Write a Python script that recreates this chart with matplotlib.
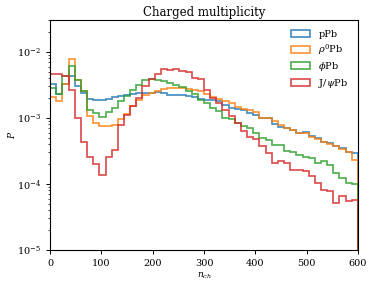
import numpy as np
import matplotlib
matplotlib.use("Agg")
import matplotlib.pyplot as plt

plt.rcParams['font.family'] = ['DejaVu Serif']
plt.rcParams['mathtext.fontset'] = 'dejavuserif'

# bin edges of n_ch histogram (50 bins of width 12 from 0 to 600)
bin_edges = np.arange(0, 601, 12)

labels = ['pPb', r'$\rho^0$Pb', r'$\phi$Pb', r'J/$\psi$Pb']
colors = ['#1f77b4', '#ff7f0e', '#2ca02c', '#d62728']

p_pPb = [3.27e-3, 2.3e-3, 3.27e-3, 4.4e-3, 3.1e-3, 2.35e-3, 1.95e-3, 1.9e-3, 1.85e-3, 1.94e-3,
         2.05e-3, 2.13e-3, 2.2e-3, 2.3e-3, 2.38e-3, 2.38e-3, 2.42e-3, 2.5e-3, 2.38e-3, 2.25e-3,
         2.22e-3, 2.22e-3, 2.13e-3, 2.05e-3, 1.96e-3, 1.89e-3, 1.85e-3, 1.78e-3, 1.59e-3, 1.41e-3,
         1.36e-3, 1.3e-3, 1.19e-3, 1.1e-3, 1.0e-3, 1.0e-3, 8.2e-4, 7.3e-4, 7.0e-4, 6.6e-4,
         6.0e-4, 6.1e-4, 5.25e-4, 5.0e-4, 4.4e-4, 4.17e-4, 3.8e-4, 3.5e-4, 3.1e-4, 2.9e-4]

p_rhoPb = [2.05e-3, 1.83e-3, 3.3e-3, 7.8e-3, 3.7e-3, 2.6e-3, 1.08e-3, 8.3e-4, 7.5e-4, 7.5e-4,
           7.8e-4, 9.5e-4, 1.15e-3, 1.5e-3, 1.89e-3, 2.2e-3, 2.35e-3, 2.59e-3, 2.75e-3, 2.84e-3,
           2.84e-3, 2.84e-3, 2.77e-3, 2.62e-3, 2.53e-3, 2.3e-3, 2.08e-3, 1.93e-3, 1.78e-3, 1.67e-3,
           1.46e-3, 1.36e-3, 1.3e-3, 1.22e-3, 1.0e-3, 1.0e-3, 8.9e-4, 7.9e-4, 7.0e-4, 6.6e-4,
           5.9e-4, 5.9e-4, 5.2e-4, 4.8e-4, 4.4e-4, 4.1e-4, 3.7e-4, 3.4e-4, 3.0e-4, 2.27e-4]

p_phiPb = [2.84e-3, 2.3e-3, 4.37e-3, 6.1e-3, 3.7e-3, 2.6e-3, 1.33e-3, 1.2e-3, 1.03e-3, 1.22e-3,
           1.41e-3, 1.78e-3, 2.13e-3, 2.65e-3, 3.15e-3, 3.75e-3, 3.95e-3, 3.8e-3, 3.59e-3, 3.38e-3,
           3.16e-3, 2.91e-3, 2.59e-3, 2.33e-3, 1.89e-3, 1.67e-3, 1.41e-3, 1.26e-3, 1.0e-3, 9.7e-4,
           8.4e-4, 7.5e-4, 7.0e-4, 5.9e-4, 5.0e-4, 4.57e-4, 3.95e-4, 3.95e-4, 3.2e-4, 3.1e-4,
           2.78e-4, 2.6e-4, 2.45e-4, 2.1e-4, 2.2e-4, 1.95e-4, 1.45e-4, 1.25e-4, 1.05e-4, 1.0e-4]

p_jpsiPb = [4.64e-3, 4.7e-3, 4.37e-3, 2.62e-3, 1.0e-3, 4.3e-4, 2.6e-4, 2.0e-4, 1.38e-4, 2.57e-4,
            3.3e-4, 7.9e-4, 1.1e-3, 1.5e-3, 2.0e-3, 3.1e-3, 3.9e-3, 4.64e-3, 5.58e-3, 5.26e-3,
            5.45e-3, 5.09e-3, 4.97e-3, 4.03e-3, 3.89e-3, 2.68e-3, 2.01e-3, 1.67e-3, 1.3e-3, 1.06e-3,
            8.4e-4, 6.3e-4, 5.15e-4, 4.85e-4, 3.7e-4, 2.95e-4, 2.1e-4, 2.2e-4, 2.1e-4, 1.64e-4,
            1.6e-4, 1.56e-4, 1.32e-4, 1.03e-4, 8.2e-5, 7.7e-5, 5.1e-5, 6.6e-5, 5.6e-5, 5.8e-5]

series = [p_pPb, p_rhoPb, p_phiPb, p_jpsiPb]

fig = plt.figure(figsize=(3.74, 2.86), dpi=100)
ax = fig.add_axes([0.134, 0.126, 0.823, 0.804])

centers = 0.5 * (bin_edges[:-1] + bin_edges[1:])
for vals, lab, col in zip(series, labels, colors):
    ax.hist(centers, bins=bin_edges, weights=vals, histtype='step',
            color=col, lw=1.2, alpha=0.85, label=lab)

ax.set_yscale('log')
ax.set_xlim(0, 600)
ax.set_ylim(1e-5, 3.05e-2)
ax.set_xticks([0, 100, 200, 300, 400, 500, 600])
ax.tick_params(labelsize=7, width=0.7, length=3)
ax.tick_params(which='minor', width=0.5, length=1.8)
for s in ax.spines.values():
    s.set_linewidth(0.8)
ax.set_title('Charged multiplicity', fontsize=8.5, pad=3)
ax.set_xlabel(r'$n_{ch}$', fontsize=6.5, labelpad=2)
ax.set_ylabel(r'$P$', fontsize=6.5, labelpad=0)
ax.legend(loc='upper right', fontsize=7, frameon=False, handlelength=2.0,
          handletextpad=0.8, labelspacing=0.35, borderaxespad=0.6)

fig.savefig('out.png', dpi=100)
